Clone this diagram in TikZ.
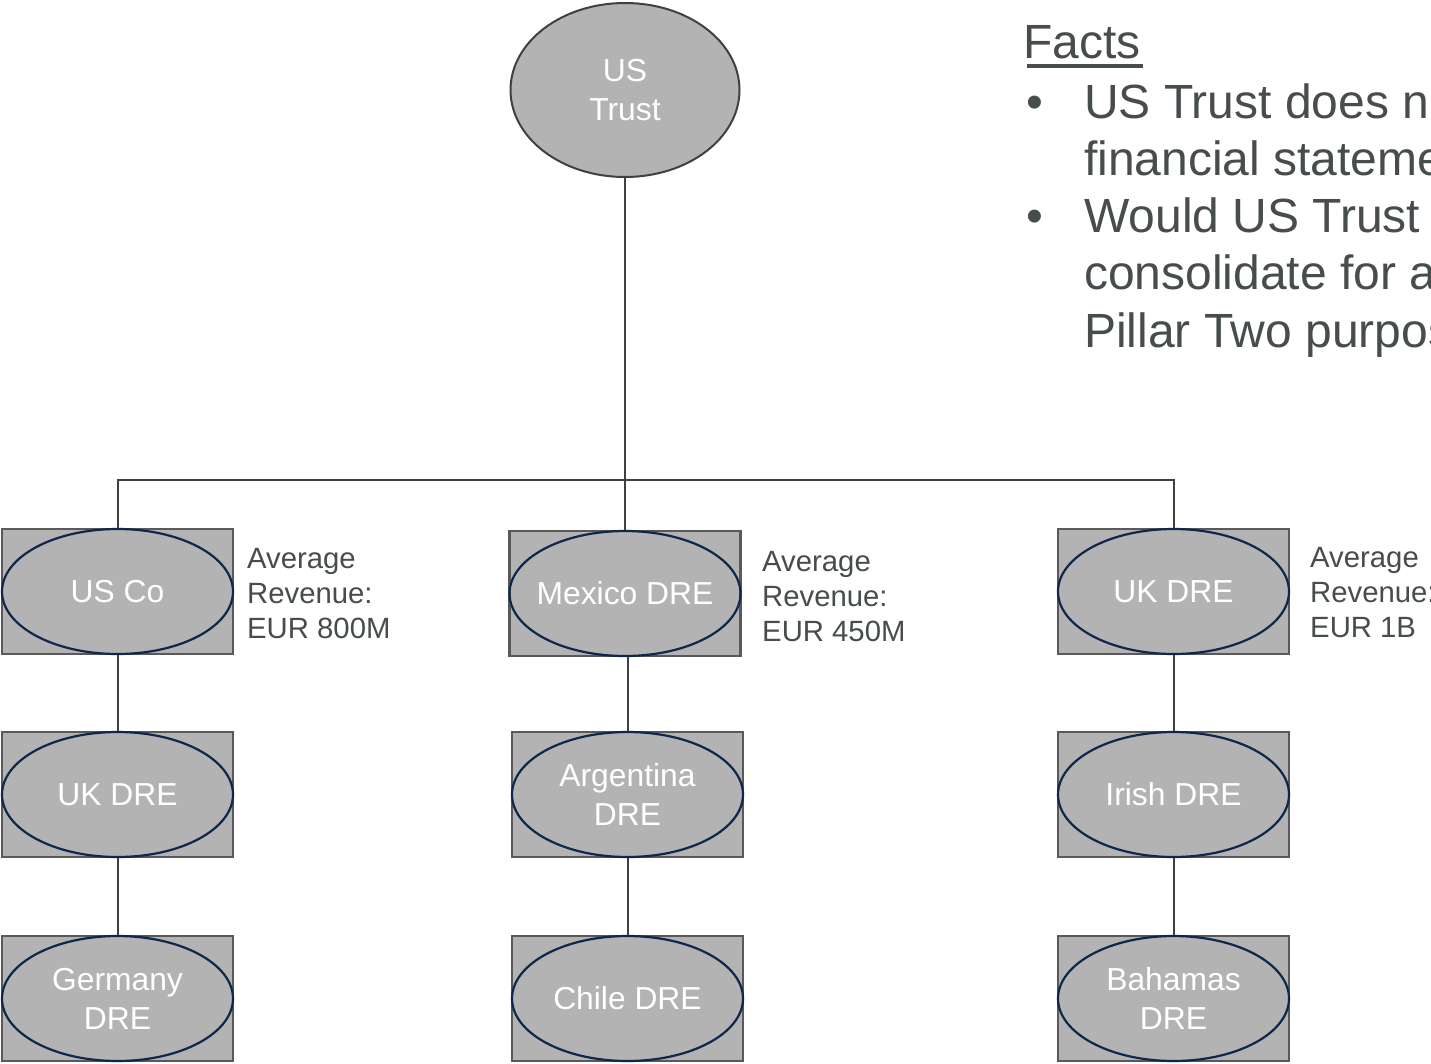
\documentclass[tikz,border=0pt]{standalone}
\usepackage{fontspec}
\setmainfont{Liberation Sans}
\usetikzlibrary{shapes.geometric}
\definecolor{boxfill}{RGB}{178,179,178}
\definecolor{boxline}{RGB}{89,89,89}
\definecolor{navyline}{RGB}{14,40,75}
\definecolor{conncol}{RGB}{64,64,64}
\definecolor{txtgray}{RGB}{71,76,76}
\begin{document}
\begin{tikzpicture}[x=1pt,y=-1pt,
  entity/.style={rectangle, draw=boxline, line width=2.5pt, fill=boxfill,
    minimum width=231pt, minimum height=125pt, inner sep=0pt, text=white,
    align=center, font=\fontsize{31.8}{39}\selectfont},
  ellline/.style={draw=navyline, line width=2.2pt},
  conn/.style={draw=conncol, line width=2pt},
  side/.style={anchor=base west, inner sep=0pt, text=txtgray,
    font=\fontsize{29.3}{35}\selectfont},
  factstxt/.style={anchor=base west, inner sep=0pt, text=txtgray,
    font=\fontsize{48}{57}\selectfont}]
\path[use as bounding box, fill=white] (0,0) rectangle (1431,1063);
\clip (0,0) rectangle (1431,1063);

% top entity
\node[ellipse, draw=conncol, line width=2pt, fill=boxfill, minimum width=229pt,
  minimum height=174pt, inner sep=0pt, text=white, align=center,
  font=\fontsize{31.8}{39}\selectfont] (ustrust) at (625,90) {US\\Trust};

% entities
\node[entity] (usco)   at (117.5,591.5) {US Co};
\node[entity] (mexico) at (625,593.5)   {Mexico DRE};
\node[entity] (ukdre)  at (1173.5,591.5) {UK DRE};
\node[entity] (ukl)    at (117.5,794.5) {UK DRE};
\node[entity] (arg)    at (627.5,794.5) {Argentina\\DRE};
\node[entity] (irish)  at (1173.5,794.5) {Irish DRE};
\node[entity] (ger)    at (117.5,998.5) {Germany\\DRE};
\node[entity] (chile)  at (627.5,998.5) {Chile DRE};
\node[entity] (bah)    at (1173.5,998.5) {Bahamas\\DRE};

\foreach \n in {usco,mexico,ukdre,ukl,arg,irish,ger,chile,bah}
  \draw[ellline] (\n.center) ellipse [x radius=115.5pt, y radius=62.5pt];

% connectors
\coordinate (bus) at (625,480);
\draw[conn] (ustrust) -- (bus);
\draw[conn] (bus) -| (usco.north);
\draw[conn] (bus) -| (ukdre.north);
\draw[conn] (bus) -- (mexico.north);
\draw[conn] (usco) -- (ukl);
\draw[conn] (ukl) -- (ger);
\draw[conn] (mexico.south -| arg.north) -- (arg.north);
\draw[conn] (arg) -- (chile);
\draw[conn] (ukdre) -- (irish);
\draw[conn] (irish) -- (bah);

% revenue labels
\node[side] (uscoA) at (247,568) {Average};
\node[side] (uscoB) at (247,603) {Revenue:};
\node[side] (uscoC) at (247,638) {EUR 800M};
\node[side] (mexA) at (762,571) {Average};
\node[side] (mexB) at (762,606) {Revenue:};
\node[side] (mexC) at (762,641) {EUR 450M};
\node[side] (ukA) at (1310,567) {Average};
\node[side] (ukB) at (1310,602) {Revenue:};
\node[side] (ukC) at (1310,637) {EUR 1B};

% facts
\node[factstxt] (facts) at (1023,58) {Facts};
\draw[draw=txtgray, line width=3.5pt] (1027,66) -- (1143,66);
\node[factstxt] (b1) at (1026,118) {•};
\node[factstxt] (f1) at (1084,118) {US Trust does n};
\node[factstxt] (f2) at (1084,175) {financial stateme};
\node[factstxt] (b2) at (1026,232) {•};
\node[factstxt] (f3) at (1084,232) {Would US Trust};
\node[factstxt] (f4) at (1084,289) {consolidate for a};
\node[factstxt] (f5) at (1084,347) {Pillar Two purpos};
\end{tikzpicture}
\end{document}
